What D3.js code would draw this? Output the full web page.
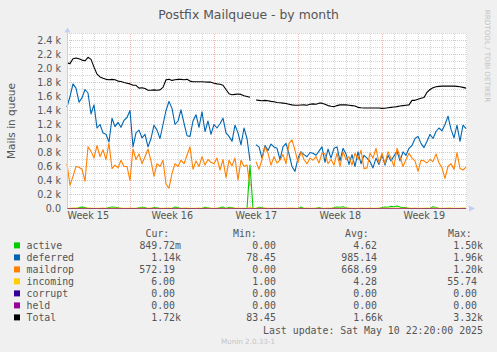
<!DOCTYPE html>
<html>
<head>
<meta charset="utf-8">
<script src="https://cdn.jsdelivr.net/npm/d3@7"></script>
<style>
  body { margin: 0; background: #f0f0f0; }
  svg { display: block; }
</style>
</head>
<body>
<svg id="chart" width="497" height="352"></svg>
<script>
// time axis: one sample every 6 hours, 800 hours shown
const plotEnd = new Date("2025-05-11T01:24:00Z");
const spanHours = 800;
const stepHours = 6;

const weekStarts = ["2025-04-06", "2025-04-13", "2025-04-20", "2025-04-27", "2025-05-04"];
const weekLabels = ["Week 15", "Week 16", "Week 17", "Week 18", "Week 19"];

const yTicks = [0, 200, 400, 600, 800, 1000, 1200, 1400, 1600, 1800, 2000, 2200, 2400];
const yTickLabels = ["0.0", "0.2 k", "0.4 k", "0.6 k", "0.8 k", "1.0 k", "1.2 k", "1.4 k", "1.6 k", "1.8 k", "2.0 k", "2.2 k", "2.4 k"];

// series values (mails in queue)
const active = [
  0, 0, 0, 0, 12, 20, 15, 0, 0, 0,
  0, 0, 0, 0, 15, 22, 18, 10, 0, 0,
  0, 0, 0, 0, 10, 18, 12, 0, 0, 14,
  10, 0, 0, 0, 0, 0, 20, 12, 0, 0,
  0, 0, 0, 0, 0, 0, 16, 10, 0, 0,
  0, 12, 20, 0, 18, 14, 0, 0, 0, 0,
  0, 620, 0, 0, 18, 12, 0, 0, 0, 0,
  0, 0, 0, 0, 0, 0, 0, 0, 20, 0,
  0, 0, 0, 0, 15, 0, 0, 0, 0, 12,
  22, 18, 25, 12, 0, 0, 0, 0, 0, 0,
  0, 0, 0, 0, 0, 15, 22, 18, 30, 25,
  35, 20, 15, 12, 0, 0, 0, 0, 0, 0,
  0, 0, 25, 15, 0, 0, 0, 0, 0, 0,
  0, 0, 0, 0.85
];
const deferred = [
  1450, 1600, 1780, 1720, 1520, 1580, 1700, 1650, 1350, 1480,
  1150, 1200, 1080, 1060, 950, 1290, 1170, 1230, 1160, 1260,
  1300, 1400, 880, 1080, 1120, 1010, 1060, 880, 1000, 1190,
  1120, 1000, 1200, 1400, 1530, 1430, 1200, 1250, 1410, 1220,
  1040, 1030, 1250, 1340, 1160, 1380, 1100, 1250, 1060, 1200,
  1150, 1210, 1290, 1080, 1030, 960, 1190, 1080, 910, 1150,
  1000, 680, null, 910, 880, 720, 900, 830, 920, 880,
  860, 700, 880, 930, 780, 600, 530, 720, 810, 770,
  740, 800, 790, 760, 820, 880, 660, 850, 720, 860,
  880, 680, 860, 780, 630, 770, 600, 810, 640, 760,
  720, 670, 580, 720, 630, 770, 620, 760, 680, 750,
  820, 680, 810, 760, 860, 900, 1000, 1030, 930, 870,
  960, 1060, 1000, 1100, 1150, 1110, 1200, 1320, 1130, 1010,
  1190, 960, 1190, 1140
];
const maildrop = [
  640, 330, 460, 600, 590, 560, 390, 880, 820, 720,
  900, 740, 840, 700, 930, 570, 620, 580, 690, 600,
  600, 400, 850, 700, 780, 640, 740, 850, 680, 460,
  640, 600, 690, 350, 290, 500, 640, 600, 690, 640,
  760, 880, 560, 680, 600, 740, 620, 700, 660, 640,
  720, 550, 700, 440, 690, 610, 720, 410, 690, 600,
  620, 320, null, 670, 560, 700, 880, 790, 620, 740,
  650, 690, 770, 640, 930, 980, 830, 660, 810, 700,
  640, 720, 690, 740, 650, 790, 780, 640, 700, 620,
  790, 600, 810, 700, 740, 620, 790, 700, 830, 570,
  580, 790, 720, 860, 650, 790, 640, 810, 720, 600,
  860, 740, 600, 700, 790, 720, 680, 530, 690, 680,
  650, 700, 670, 780, 650, 580, 430, 600, 640, 560,
  800, 570, 550, 590
];
const incoming = [
  4, 3, 5, 6, 2, 3, 4, 8, 5, 3,
  2, 4, 6, 3, 2, 5, 4, 3, 6, 2,
  3, 5, 4, 2, 3, 6, 4, 3, 5, 2,
  4, 3, 2, 6, 5, 3, 4, 2, 3, 5,
  6, 4, 3, 2, 5, 3, 4, 6, 2, 3,
  5, 4, 3, 2, 4, 6, 3, 5, 2, 4,
  3, 12, 2, 4, 5, 3, 6, 2, 4, 3,
  5, 2, 3, 4, 6, 5, 3, 2, 4, 3,
  6, 4, 2, 5, 3, 4, 2, 6, 3, 5,
  4, 3, 2, 5, 6, 3, 4, 2, 5, 3,
  4, 6, 3, 2, 5, 4, 3, 6, 2, 4,
  5, 3, 4, 2, 6, 3, 5, 4, 2, 3,
  6, 4, 3, 5, 2, 4, 3, 6, 5, 2,
  4, 3, 5, 6
];
const corrupt = [
  0, 0, 0, 0, 0, 0, 0, 0, 0, 0, 0, 0, 0, 0, 0, 0, 0, 0, 0, 0,
  0, 0, 0, 0, 0, 0, 0, 0, 0, 0, 0, 0, 0, 0, 0, 0, 0, 0, 0, 0,
  0, 0, 0, 0, 0, 0, 0, 0, 0, 0, 0, 0, 0, 0, 0, 0, 0, 0, 0, 0,
  0, 0, 0, 0, 0, 0, 0, 0, 0, 0, 0, 0, 0, 0, 0, 0, 0, 0, 0, 0,
  0, 0, 0, 0, 0, 0, 0, 0, 0, 0, 0, 0, 0, 0, 0, 0, 0, 0, 0, 0,
  0, 0, 0, 0, 0, 0, 0, 0, 0, 0, 0, 0, 0, 0, 0, 0, 0, 0, 0, 0,
  0, 0, 0, 0, 0, 0, 0, 0, 0, 0, 0, 0, 0, 0
];
const held = [
  0, 0, 0, 0, 0, 0, 0, 0, 0, 0, 0, 0, 0, 0, 0, 0, 0, 0, 0, 0,
  0, 0, 0, 0, 0, 0, 0, 0, 0, 0, 0, 0, 0, 0, 0, 0, 0, 0, 0, 0,
  0, 0, 0, 0, 0, 0, 0, 0, 0, 0, 0, 0, 0, 0, 0, 0, 0, 0, 0, 0,
  0, 0, 0, 0, 0, 0, 0, 0, 0, 0, 0, 0, 0, 0, 0, 0, 0, 0, 0, 0,
  0, 0, 0, 0, 0, 0, 0, 0, 0, 0, 0, 0, 0, 0, 0, 0, 0, 0, 0, 0,
  0, 0, 0, 0, 0, 0, 0, 0, 0, 0, 0, 0, 0, 0, 0, 0, 0, 0, 0, 0,
  0, 0, 0, 0, 0, 0, 0, 0, 0, 0, 0, 0, 0, 0
];
const total = [
  2080, 2070, 2140, 2150, 2140, 2120, 2110, 2160, 2130, 2020,
  1920, 1880, 1860, 1845, 1840, 1845, 1840, 1820, 1815, 1800,
  1790, 1780, 1760, 1760, 1720, 1725, 1715, 1690, 1690, 1695,
  1690, 1695, 1730, 1840, 1845, 1830, 1840, 1845, 1845, 1840,
  1845, 1820, 1810, 1810, 1810, 1810, 1808, 1805, 1805, 1790,
  1780, 1775, 1760, 1700, 1640, 1625, 1630, 1635, 1630, 1610,
  1600, 1590, null, 1550, 1545, 1540, 1545, 1540, 1530, 1525,
  1515, 1510, 1505, 1500, 1490, 1480, 1475, 1475, 1478, 1480,
  1475, 1490, 1495, 1490, 1505, 1505, 1490, 1470, 1460, 1455,
  1470, 1480, 1480, 1480, 1475, 1470, 1465, 1445, 1440, 1436,
  1436, 1436, 1436, 1436, 1436, 1430, 1432, 1440, 1445, 1450,
  1455, 1465, 1470, 1475, 1480, 1545, 1545, 1560, 1575, 1585,
  1660, 1700, 1725, 1740, 1745, 1748, 1748, 1748, 1748, 1748,
  1745, 1740, 1730, 1720
];

// legend table
const seriesNames = ["active", "deferred", "maildrop", "incoming", "corrupt", "held", "Total"];
const seriesColors = ["#00cc00", "#0066b3", "#ff8000", "#ffcc00", "#330099", "#990099", "#000000"];
const curText = ["849.72m", "1.14k", "572.19", "6.00", "0.00", "0.00", "1.72k"];
const minText = ["0.00", "78.45", "0.00", "1.00", "0.00", "0.00", "83.45"];
const avgText = ["4.62", "985.14", "668.69", "4.28", "0.00", "0.00", "1.66k"];
const maxText = ["1.50k", "1.96k", "1.20k", "55.74", "0.00", "0.00", "3.32k"];
const lastUpdate = "Last update: Sat May 10 22:20:00 2025";

const allSeries = [active, deferred, maildrop, incoming, corrupt, held, total];
// the zero lines sit on the axis and come out faded in the original
const lineOpacity = [1, 1, 1, 1, 0.3, 0.5, 1];

const svg = d3.select("#chart");
const plotL = 67, plotR = 467, plotT = 33.5, plotB = 208.5;
const plotStart = new Date(plotEnd.getTime() - spanHours * 3600e3);

const x = d3.scaleUtc().domain([plotStart, plotEnd]).range([plotL, plotR]);
const y = d3.scaleLinear().domain([0, 2500]).range([plotB, plotT]);
const sampleTime = i => new Date(plotStart.getTime() + i * stepHours * 3600e3);
const crisp = v => Math.round(v - 0.5) + 0.5;

const textColor = "#555";
const sans = "'DejaVu Sans', sans-serif";
const mono = "'DejaVu Sans Mono', monospace";

// title
svg.append("text")
  .attr("x", 248.5).attr("y", 18.5)
  .attr("text-anchor", "middle")
  .attr("font-family", sans).attr("font-size", 12.4)
  .attr("fill", textColor)
  .text("Postfix Mailqueue - by month");

// rrdtool watermark
svg.append("text")
  .attr("transform", "translate(485,56) rotate(90)")
  .attr("text-anchor", "middle")
  .attr("font-family", sans).attr("font-size", 7.2)
  .attr("fill", "#c4c4c4")
  .text("RRDTOOL / TOBI OETIKER");

// y label
svg.append("text")
  .attr("transform", "translate(14.5,121) rotate(-90)")
  .attr("text-anchor", "middle")
  .attr("font-family", sans).attr("font-size", 10.5)
  .attr("fill", textColor)
  .text("Mails in queue");

// plot background
svg.append("rect")
  .attr("x", plotL).attr("y", plotT)
  .attr("width", plotR - plotL).attr("height", plotB - plotT)
  .attr("fill", "#fff");

const grid = svg.append("g").attr("shape-rendering", "crispEdges");

// minor grid
const minorY = d3.range(100, 2501, 100).filter(v => !yTicks.includes(v));
grid.selectAll(".hmin").data(minorY).enter().append("line")
  .attr("x1", plotL).attr("x2", plotR)
  .attr("y1", d => crisp(y(d))).attr("y2", d => crisp(y(d)))
  .attr("stroke", "#d6d6d6").attr("stroke-dasharray", "1,1");

const days = d3.utcDay.range(plotStart, plotEnd);
grid.selectAll(".vmin").data(days).enter().append("line")
  .attr("x1", d => crisp(x(d))).attr("x2", d => crisp(x(d)))
  .attr("y1", plotT).attr("y2", plotB)
  .attr("stroke", "#d6d6d6").attr("stroke-dasharray", "1,1");

// major grid
grid.selectAll(".hmaj").data(yTicks.slice(1)).enter().append("line")
  .attr("x1", plotL).attr("x2", plotR)
  .attr("y1", d => crisp(y(d))).attr("y2", d => crisp(y(d)))
  .attr("stroke", "#f7b8b8").attr("stroke-dasharray", "1,1");

const weekDates = weekStarts.map(d => new Date(d + "T00:00:00Z"));
grid.selectAll(".vmaj").data(weekDates.filter(d => d > plotStart)).enter().append("line")
  .attr("x1", d => crisp(x(d))).attr("x2", d => crisp(x(d)))
  .attr("y1", plotT).attr("y2", plotB)
  .attr("stroke", "#f7b8b8").attr("stroke-dasharray", "1,1");

// y tick labels
svg.selectAll(".ylab").data(yTicks).enter().append("text")
  .attr("x", 61).attr("y", d => y(d) + 3.5)
  .attr("text-anchor", "end")
  .attr("font-family", sans).attr("font-size", 9.6)
  .attr("fill", textColor)
  .text((d, i) => yTickLabels[i]);

// week labels, centred in each week
svg.selectAll(".xlab").data(weekDates).enter().append("text")
  .attr("x", d => x(new Date(d.getTime() + 3.5 * 864e5)))
  .attr("y", 219)
  .attr("text-anchor", "middle")
  .attr("font-family", sans).attr("font-size", 9.6)
  .attr("fill", textColor)
  .text((d, i) => weekLabels[i]);

// series lines
const line = d3.line()
  .defined(d => d != null)
  .x((d, i) => x(sampleTime(i)))
  .y(d => y(d));

allSeries.forEach((s, k) => {
  svg.append("path")
    .datum(s)
    .attr("d", line)
    .attr("fill", "none")
    .attr("stroke", seriesColors[k])
    .attr("stroke-opacity", lineOpacity[k])
    .attr("stroke-width", 1.1)
    .attr("stroke-linejoin", "round");
});

// axes
const axisColor = "#c6cdf2";
svg.append("line")
  .attr("x1", plotL + 0.5).attr("x2", plotL + 0.5)
  .attr("y1", plotT - 1).attr("y2", plotB)
  .attr("stroke", axisColor);
svg.append("path")
  .attr("d", `M${plotL - 2.5},${plotT - 1} L${plotL + 3.5},${plotT - 1} L${plotL + 0.5},${plotT - 6} Z`)
  .attr("fill", axisColor);
svg.append("path")
  .attr("d", `M${plotR + 2},${plotB - 3} L${plotR + 2},${plotB + 3} L${plotR + 8},${plotB} Z`)
  .attr("fill", axisColor);

// legend
const legend = svg.append("g")
  .attr("font-family", mono).attr("font-size", 9.9)
  .attr("fill", textColor);
const charW = 6;
const rowY = i => 249.4 + i * 12;

[["Cur:", 145.5], ["Min:", 233], ["Avg:", 345], ["Max:", 448]].forEach(h => {
  legend.append("text").attr("x", h[1]).attr("y", 237).text(h[0]);
});

seriesNames.forEach((name, i) => {
  legend.append("rect")
    .attr("x", 14).attr("y", rowY(i) - 7)
    .attr("width", 6).attr("height", 6)
    .attr("fill", seriesColors[i]);
  legend.append("text").attr("x", 26.5).attr("y", rowY(i)).text(name);
  [[curText, 181], [minText, 282], [avgText, 383], [maxText, 483]].forEach(c => {
    const v = c[0][i];
    const hasSuffix = /[a-zA-Z]$/.test(v);
    legend.append("text")
      .attr("x", hasSuffix ? c[1] : c[1] - charW)
      .attr("y", rowY(i))
      .attr("text-anchor", "end")
      .text(v);
  });
});

legend.append("text")
  .attr("x", 483).attr("y", 333.6)
  .attr("text-anchor", "end")
  .text(lastUpdate);

svg.append("text")
  .attr("x", 248).attr("y", 343.5)
  .attr("text-anchor", "middle")
  .attr("font-family", sans).attr("font-size", 7.2)
  .attr("fill", "#c4c4c4")
  .text("Munin 2.0.33-1");
</script>
</body>
</html>
